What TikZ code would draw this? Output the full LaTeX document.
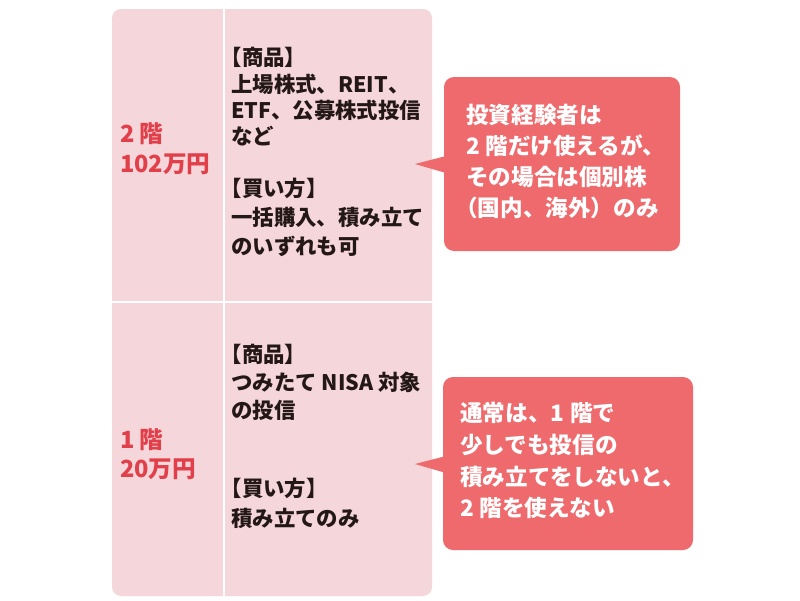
\documentclass[tikz,border=0pt]{standalone}
\usepackage{fontspec}
\setmainfont{Noto Sans CJK JP}
\definecolor{panelpink}{HTML}{F5D6DA}
\definecolor{callred}{HTML}{EE6A6D}
\definecolor{labred}{HTML}{E1404A}
\definecolor{txtblack}{HTML}{231815}
\tikzset{
  paneltxt/.style={anchor=base west, inner sep=0pt, text=txtblack, font=\bfseries\fontsize{21.4}{24}\selectfont},
  labtxt/.style={anchor=base west, inner sep=0pt, text=labred, font=\bfseries\fontsize{23.6}{26}\selectfont},
  calltxt/.style={anchor=base west, inner sep=0pt, text=white, font=\bfseries\fontsize{22.6}{26}\selectfont},
  callbox/.style={fill=callred, rounded corners=10pt, inner sep=0pt},
  panelbox/.style={fill=panelpink, rounded corners=9pt, inner sep=0pt},
  divider/.style={draw=white, line width=2.5pt}
}
\begin{document}
\begin{tikzpicture}[x=1pt,y=-1pt]
\useasboundingbox[fill=white] (0,0) rectangle (800,600);
% panel
\node[panelbox, minimum width=320pt, minimum height=587pt] (panel) at (272,302.5) {};
\coordinate (vtop) at (224,9);
\coordinate (vbot) at (224,596);
\coordinate (hl) at (112,302);
\coordinate (hr) at (432,302);
\draw[divider] (vtop) -- (vbot);
\draw[divider] (hl) -- (hr);
% red labels
\node[labtxt] (l2a) at (120,142.5) {2\hspace{0.22em}階};
\node[labtxt] (l2b) at (120,172) {102万円};
\node[labtxt] (l1a) at (120,448.5) {1\hspace{0.22em}階};
\node[labtxt] (l1b) at (120,477) {20万円};
% top panel text
\node[paneltxt] (t1) at (220.5,65.5) {【商品】};
\node[paneltxt] (t2) at (231,92) {上場株式、REIT、};
\node[paneltxt] (t3) at (231,118.5) {ETF、公募株式投信};
\node[paneltxt] (t4) at (231,144.5) {など};
\node[paneltxt] (t5) at (220.5,196) {【買い方】};
\node[paneltxt] (t6) at (231,225) {一括購入、積み立て};
\node[paneltxt] (t7) at (231,254) {のいずれも可};
% bottom panel text
\node[paneltxt] (b1) at (220.5,362) {【商品】};
\node[paneltxt] (b2) at (231,390) {つみたて NISA 対象};
\node[paneltxt] (b3) at (231,418) {の投信};
\node[paneltxt] (b4) at (220.5,496) {【買い方】};
\node[paneltxt] (b5) at (231,526) {積み立てのみ};
% callout 1
\node[callbox, minimum width=236pt, minimum height=174pt] (c1) at (562,164) {};
\coordinate (p1) at (415,164);
\fill[callred] (p1) -- (446,156) -- (446,173) -- cycle;
\node[calltxt] (c1a) at (466,123) {投資経験者は};
\node[calltxt] (c1b) at (466,154) {2\hspace{0.25em}階だけ使えるが、};
\node[calltxt] (c1c) at (466,185) {その場合は個別株};
\node[calltxt] (c1d) at (455,216) {（国内、海外）のみ};
% callout 2
\node[callbox, minimum width=250pt, minimum height=173pt] (c2) at (568,463.5) {};
\coordinate (p2) at (415,464);
\fill[callred] (p2) -- (446,456) -- (446,473) -- cycle;
\node[calltxt] (c2a) at (460,421) {通常は、1\hspace{0.25em}階で};
\node[calltxt] (c2b) at (460,453) {少しでも投信の};
\node[calltxt] (c2c) at (460,485) {積み立てをしないと、};
\node[calltxt] (c2d) at (460,516) {2\hspace{0.25em}階を使えない};
\end{tikzpicture}
\end{document}
